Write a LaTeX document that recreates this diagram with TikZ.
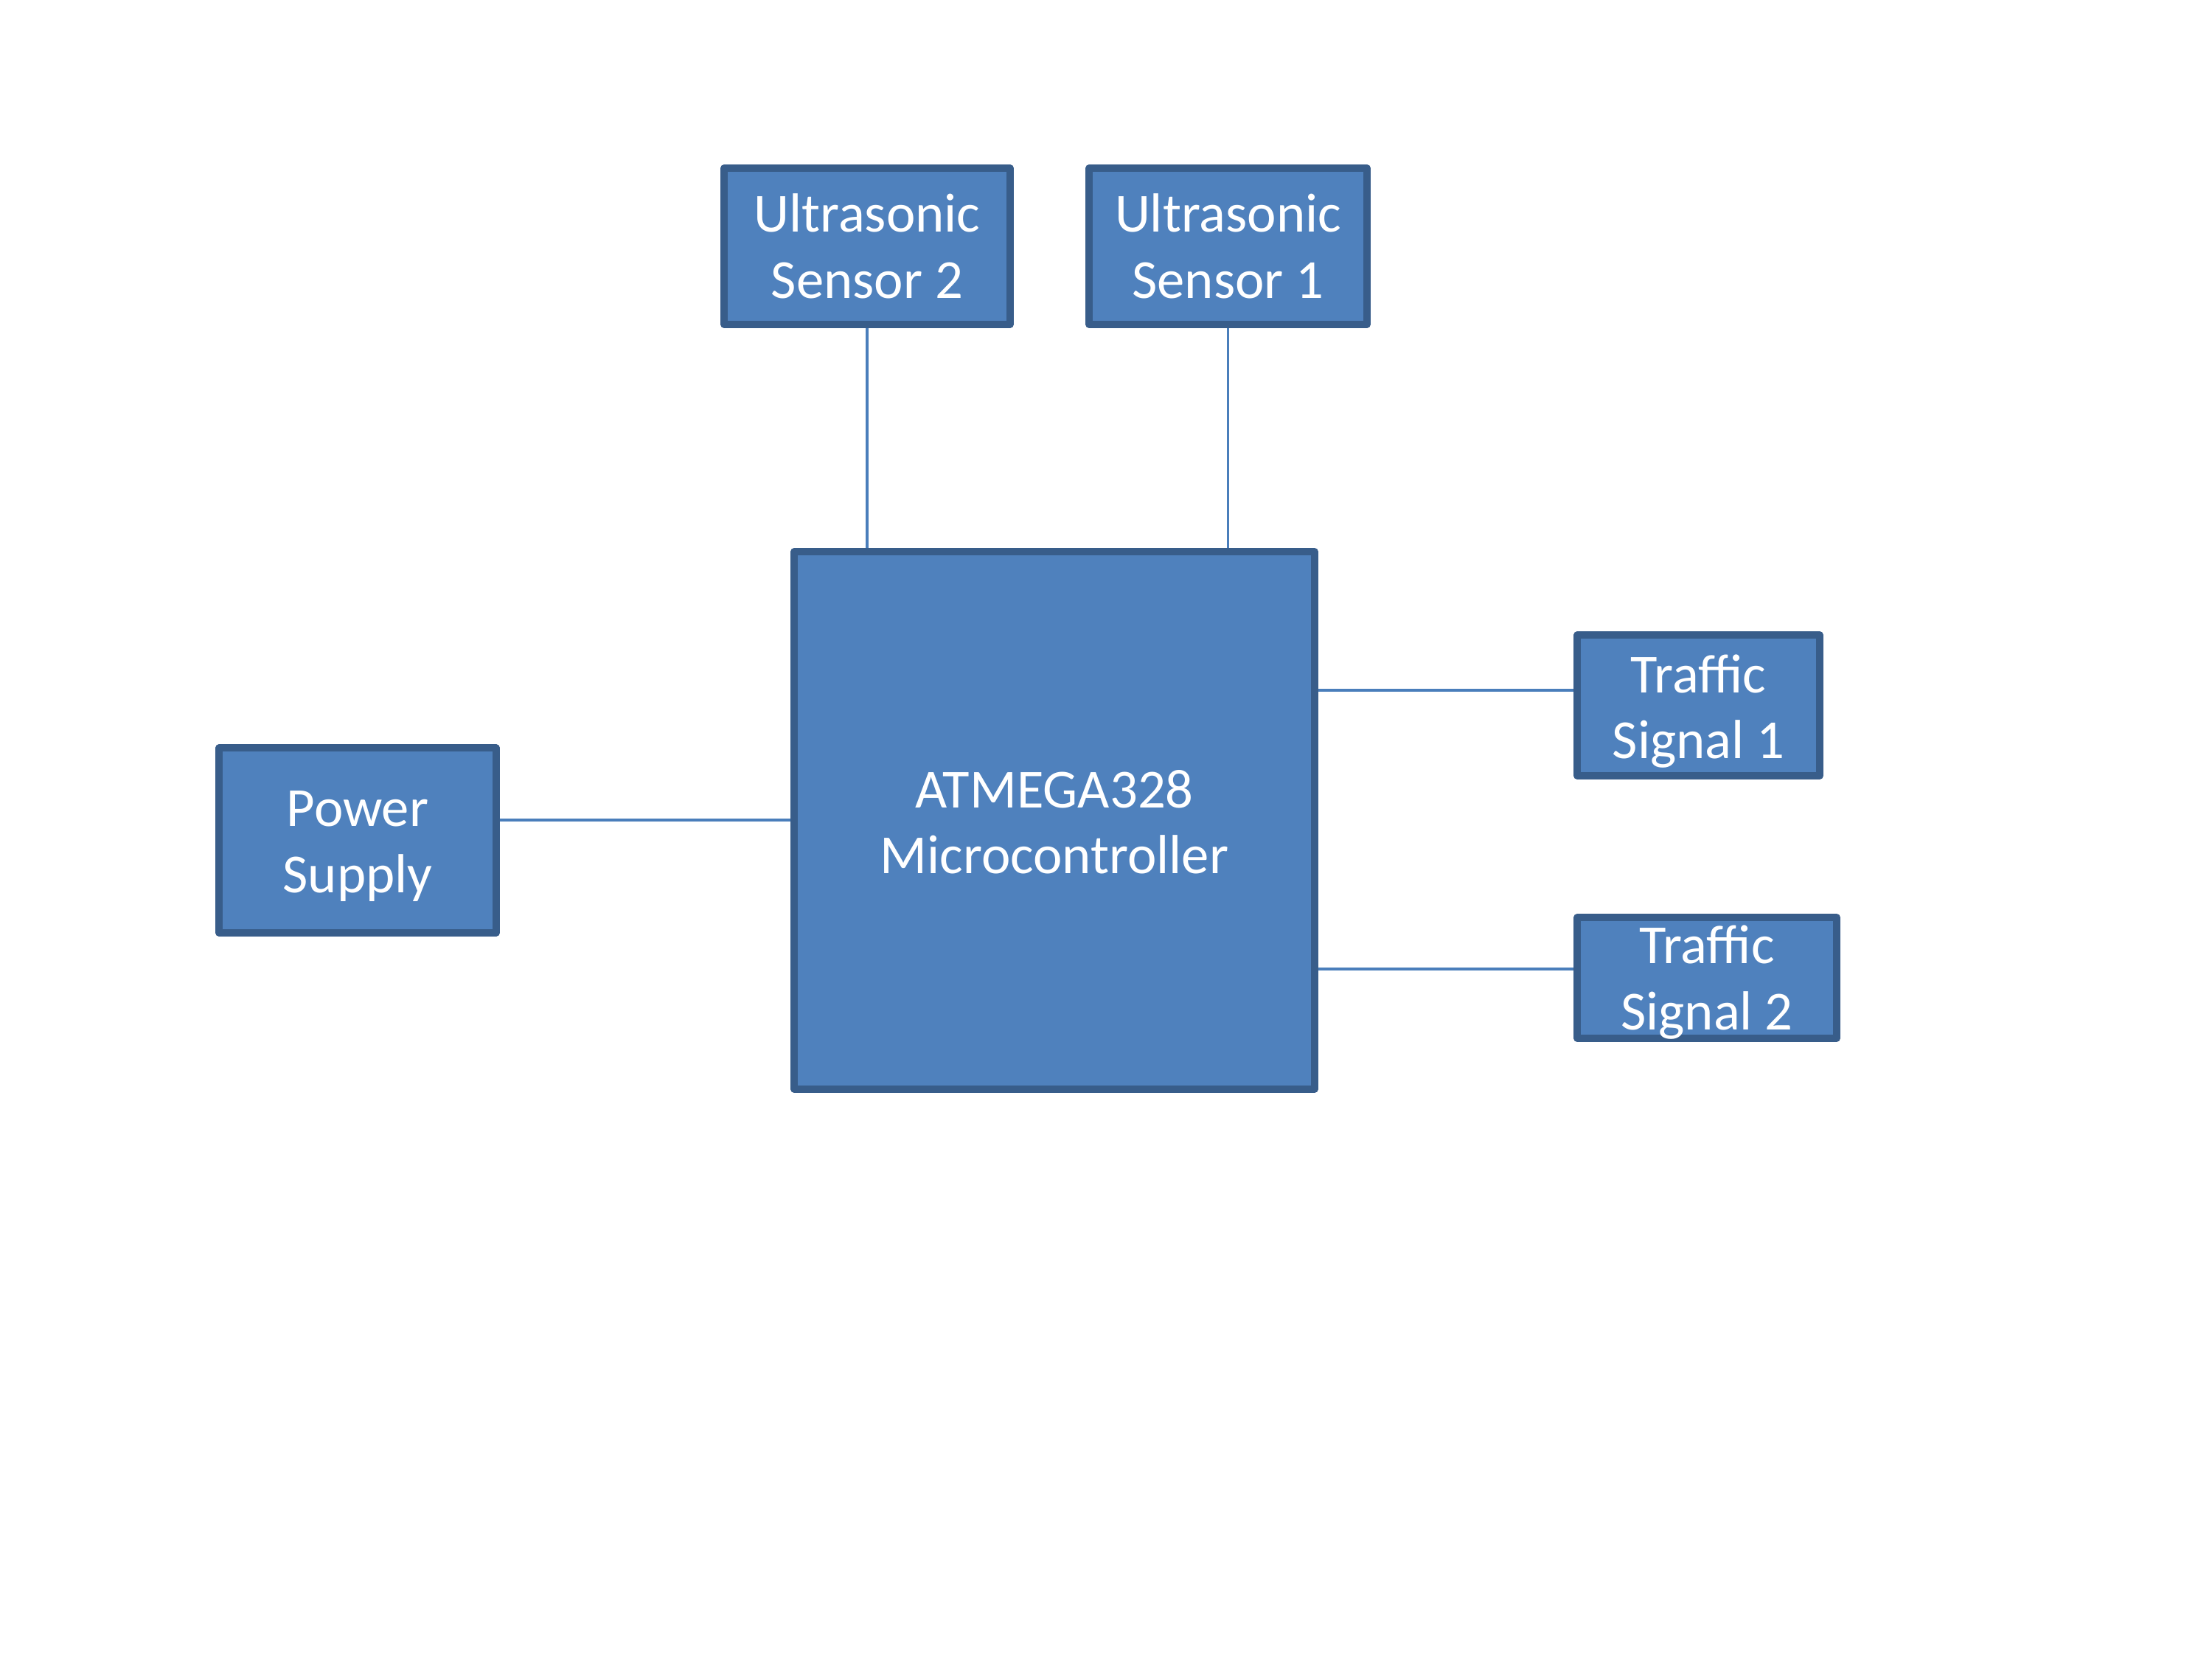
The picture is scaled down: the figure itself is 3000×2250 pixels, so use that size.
\documentclass[tikz,border=0pt]{standalone}
\usepackage{fontspec}
\setmainfont{Carlito}
\usetikzlibrary{fit}
\definecolor{boxfill}{HTML}{4F81BD}
\definecolor{boxline}{HTML}{385D8A}
\definecolor{wire}{HTML}{4A7EBB}
\tikzset{
  blockbox/.style={draw=boxline, fill=boxfill, line width=2.2pt, line join=round, inner sep=0pt},
  blocktext/.style={text=white, align=center, font=\fontsize{18}{21.6}\selectfont, inner sep=0pt},
  wireline/.style={draw=wire, line width=0.75pt}
}
\begin{document}
\begin{tikzpicture}[x=0.0084667cm, y=-0.0084667cm]
\useasboundingbox (0,0) rectangle (3000,2250);
% boxes
\node[blockbox, fit={(982,228) (1370,440)}] (us2) {};
\node[blockbox, fit={(1477,228) (1854,440)}] (us1) {};
\node[blockbox, fit={(1077,748) (1783,1477)}] (atm) {};
\node[blockbox, fit={(2139,861) (2468,1052)}] (ts1) {};
\node[blockbox, fit={(2139,1244) (2491,1408)}] (ts2) {};
\node[blockbox, fit={(297,1014) (673,1265)}] (ps) {};
% texts
\node[blocktext] (us2t) at (us2.center) {Ultrasonic\\Sensor 2};
\node[blocktext] (us1t) at (us1.center) {Ultrasonic\\Sensor 1};
\node[blocktext] (atmt) at ([yshift=-0.5pt]atm.center) {ATMEGA328\\Microcontroller};
\node[blocktext] (ts1t) at ([yshift=-1.9pt]ts1.center) {Traffic\\Signal 1};
\node[blocktext] (ts2t) at ([yshift=-1.5pt]ts2.center) {Traffic\\Signal 2};
\node[blocktext] (pst) at ([yshift=-1.9pt]ps.center) {Power\\Supply};
% connectors
\coordinate (c1) at (2000,936);
\coordinate (c2) at (2000,1314);
\coordinate (c3) at (800,1112);
\draw[wireline] (us2.south) -- (us2.south |- atm.north);
\draw[wireline] (us1.south) -- (us1.south |- atm.north);
\draw[wireline] (c1 -| atm.east) -- (c1 -| ts1.west);
\draw[wireline] (c2 -| atm.east) -- (c2 -| ts2.west);
\draw[wireline] (c3 -| ps.east) -- (c3 -| atm.west);
\end{tikzpicture}
\end{document}
